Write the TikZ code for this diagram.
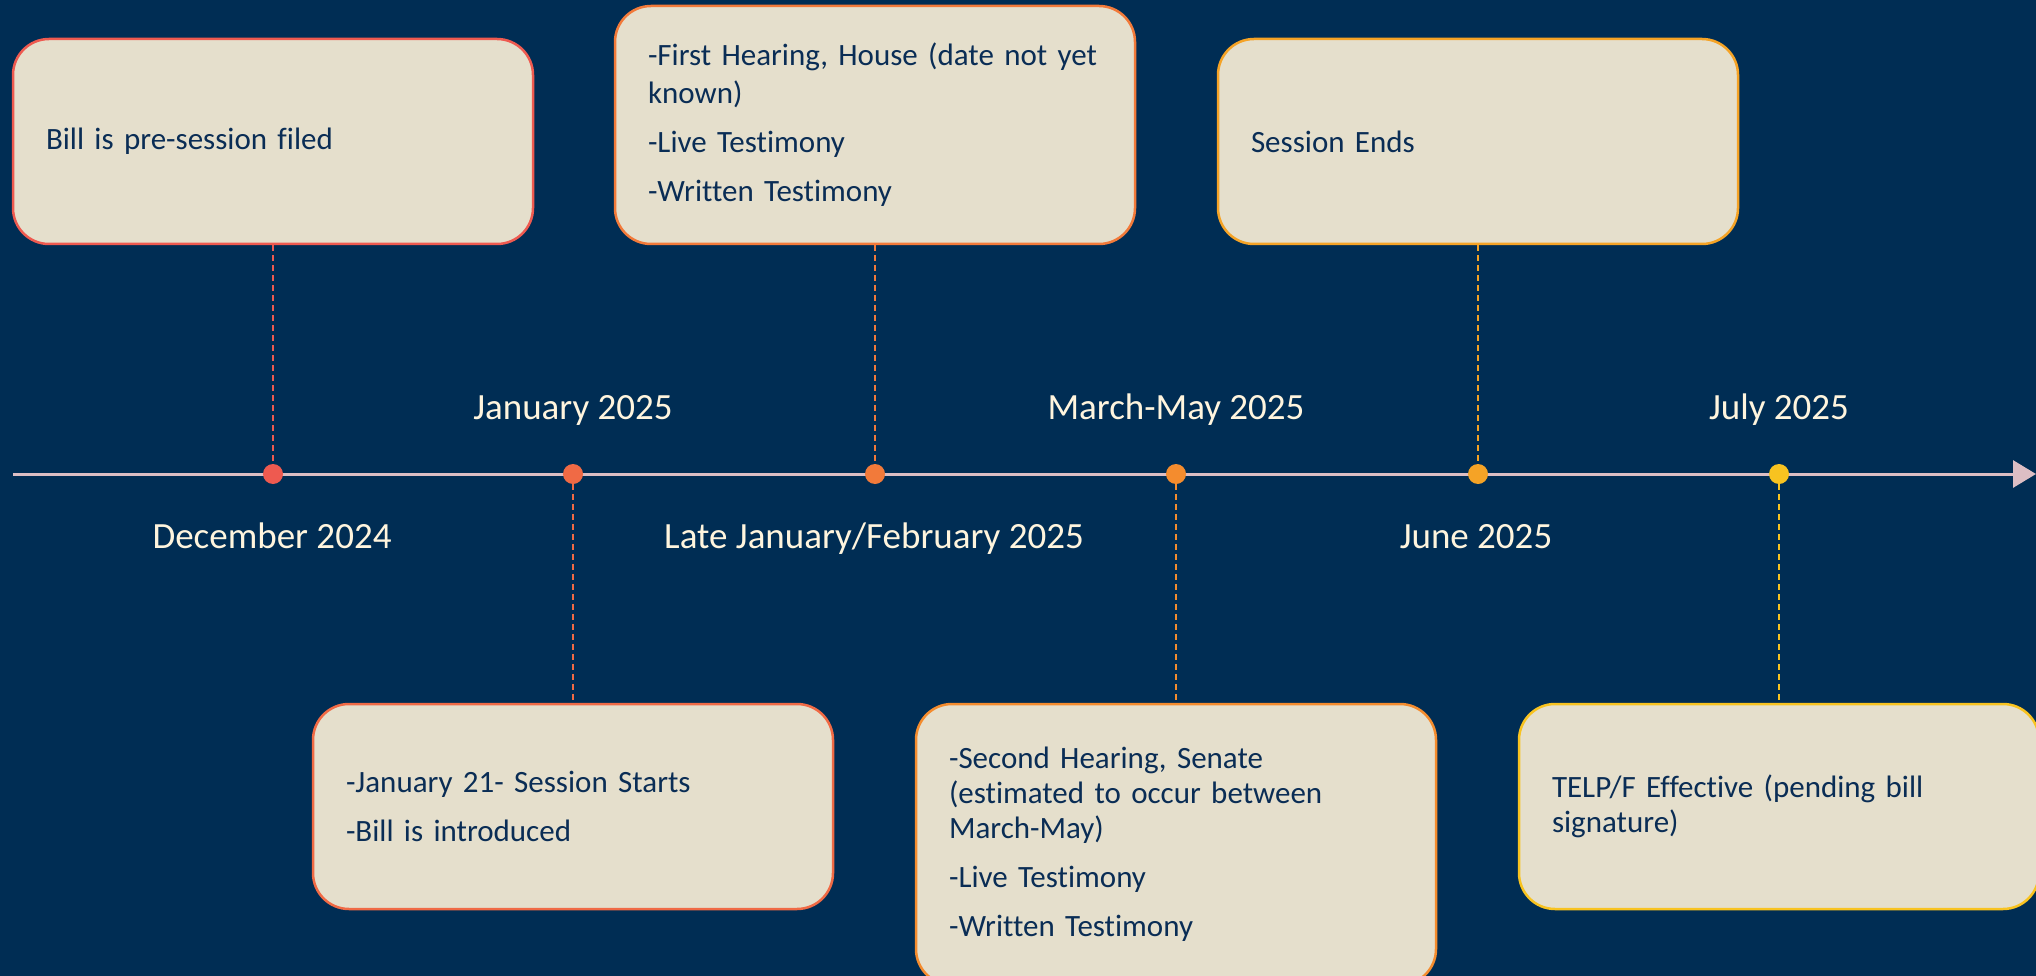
\documentclass[tikz,border=0pt]{standalone}
\usepackage{fontspec}
\setmainfont{Carlito}[RawFeature={-liga;-clig;-dlig}]
\usetikzlibrary{arrows.meta}
\definecolor{bg}{RGB}{0,45,84}
\definecolor{boxfill}{RGB}{229,223,204}
\definecolor{boxtext}{RGB}{10,45,85}
\definecolor{cream}{RGB}{255,245,222}
\definecolor{tlcol}{RGB}{220,190,196}
\definecolor{c1}{RGB}{238,90,80}
\definecolor{c2}{RGB}{240,106,69}
\definecolor{c3}{RGB}{242,122,58}
\definecolor{c4}{RGB}{244,140,46}
\definecolor{c5}{RGB}{245,163,38}
\definecolor{c6}{RGB}{248,195,32}
\begin{document}
\begin{tikzpicture}[x=1pt,y=-1pt,
  evbox/.style={draw, line width=2.5pt, fill=boxfill, rounded corners=36pt,
    text width=454pt, inner xsep=33pt, inner ysep=0pt, minimum width=520pt,
    align=left, text=boxtext, font=\fontsize{31}{35}\selectfont},
  datelbl/.style={text=cream, font=\fontsize{37}{44}\selectfont, anchor=base, inner sep=0pt},
  dot/.style={circle, minimum size=20pt, inner sep=0pt, draw=none},
  conn/.style={line width=1.3pt, dash pattern=on 6pt off 4pt},
  tline/.style={line width=3pt, draw=tlcol, -{Triangle[length=23pt,width=27pt,fill=tlcol]}}]
\useasboundingbox (0,0) rectangle (2036,976);
\fill[bg] (0,0) rectangle (2036,976);
\clip (0,0) rectangle (2036,976);

% timeline
\coordinate (tl0) at (13,474);
\coordinate (tl1) at (2036,474);
\draw[tline] (tl0) -- (tl1);

% dots
\node[dot, fill=c1] (d1) at (273,474) {};
\node[dot, fill=c2] (d2) at (573,474) {};
\node[dot, fill=c3] (d3) at (875,474) {};
\node[dot, fill=c4] (d4) at (1176,474) {};
\node[dot, fill=c5] (d5) at (1478,474) {};
\node[dot, fill=c6] (d6) at (1779,474) {};

% boxes
\node[evbox, draw=c1, minimum height=205pt] (b1) at (273,141.5) {\raisebox{-2pt}{Bill is pre-session filed}};
\node[evbox, draw=c3, minimum height=238pt] (b3) at (875,125) {\vspace{3pt}-First Hearing, House (date not yet\\known)\\[14pt]-Live Testimony\\[14pt]-Written Testimony};
\node[evbox, draw=c5, minimum height=205pt] (b5) at (1478,141.5) {\raisebox{-2pt}{Session Ends}};
\node[evbox, draw=c2, minimum height=205pt] (b2) at (573,806.5) {-January 21- Session Starts\\[14pt]-Bill is introduced};
\node[evbox, draw=c4, minimum height=281pt] (b4) at (1176,844.5) {-Second Hearing, Senate\\(estimated to occur between\\March-May)\\[14pt]-Live Testimony\\[14pt]-Written Testimony};
\node[evbox, draw=c6, minimum height=205pt] (b6) at (1779,806.5) {TELP/F Effective (pending bill\\signature)};

% connectors
\draw[conn, c1] (b1.south) -- (d1.north);
\draw[conn, c3] (b3.south) -- (d3.north);
\draw[conn, c5] (b5.south) -- (d5.north);
\draw[conn, c2] (d2.south) -- (b2.north);
\draw[conn, c4] (d4.south) -- (b4.north);
\draw[conn, c6] (d6.south) -- (b6.north);

% date labels
\node[datelbl] (l2) at (573,419) {January 2025};
\node[datelbl] (l4) at (1176,419) {March-May 2025};
\node[datelbl] (l6) at (1779,419) {July 2025};
\node[datelbl] (l1) at (272,548) {December 2024};
\node[datelbl] (l3) at (874,548) {Late January/February 2025};
\node[datelbl] (l5) at (1476,548) {June 2025};
\end{tikzpicture}
\end{document}
